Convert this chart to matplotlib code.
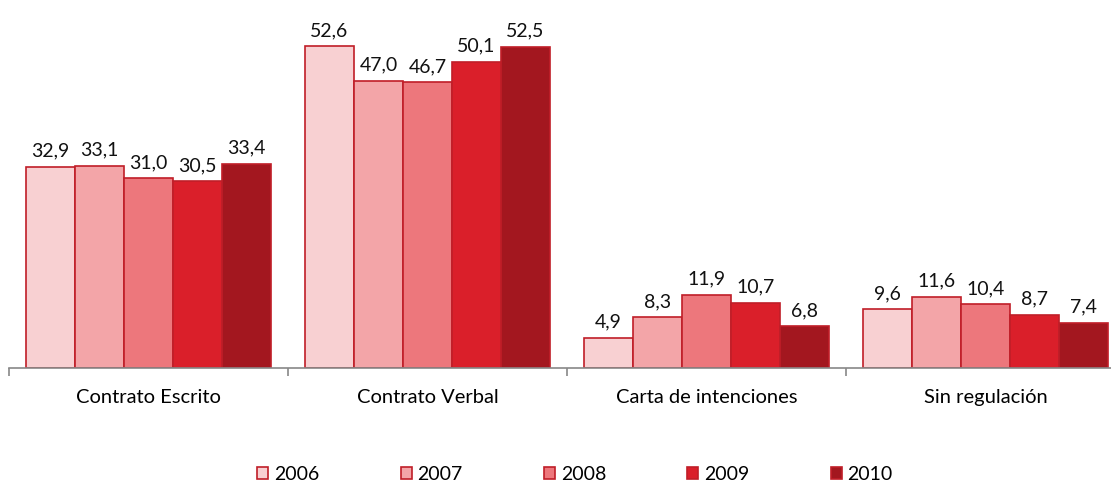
import matplotlib
matplotlib.use("Agg")
import matplotlib.pyplot as plt
from matplotlib.patches import Patch
import numpy as np

categories = ["Contrato Escrito", "Contrato Verbal", "Carta de intenciones", "Sin regulación"]
years = ["2006", "2007", "2008", "2009", "2010"]
values = {
    "2006": [32.9, 52.6, 4.9, 9.6],
    "2007": [33.1, 47.0, 8.3, 11.6],
    "2008": [31.0, 46.7, 11.9, 10.4],
    "2009": [30.5, 50.1, 10.7, 8.7],
    "2010": [33.4, 52.5, 6.8, 7.4],
}
colors = ["#F8D0D2", "#F3A5A8", "#ED777C", "#DA1F2A", "#A3171F"]
edge = "#C01E28"

plt.rcParams["font.family"] = ["Lato", "DejaVu Sans"]

fig = plt.figure(figsize=(11.11, 4.84), dpi=100)
ax = fig.add_axes([9 / 1111, 1 - 368 / 484, 1 - 9 / 1111, 367 / 484])

x = np.arange(len(categories))
bw = 0.1756
for i, y in enumerate(years):
    pos = x + (i - 2) * bw
    ax.bar(pos, values[y], width=bw, color=colors[i], edgecolor=edge, linewidth=1.2)
    for px, v in zip(pos, values[y]):
        ax.text(px, v + 1.2, f"{v:.1f}".replace(".", ","), ha="center", va="bottom",
                fontsize=14, color="#111111")

for s in ["top", "right", "left"]:
    ax.spines[s].set_visible(False)
ax.spines["bottom"].set_color("#888888")
ax.spines["bottom"].set_linewidth(1.2)
ax.set_yticks([])
ax.set_xticks(np.arange(len(categories) + 1) - 0.5, minor=True)
ax.set_xticks(x)
ax.set_xticklabels(categories, fontsize=14.5)
ax.tick_params(axis="x", which="major", length=0, pad=15)
ax.tick_params(axis="x", which="minor", length=6, color="#888888", width=1.2)
# limits set after ticks so the tick call does not widen the view
ax.set_xlim(-0.5, -0.5 + 3.95)
ax.set_ylim(0, 60)

handles = [Patch(facecolor=c, edgecolor=edge, linewidth=1.2) for c in colors]
fig.legend(handles, years, loc="center", bbox_to_anchor=(0.5176, 0.02), ncol=5,
           frameon=False, fontsize=14, handlelength=0.57, handleheight=0.6,
           handletextpad=0.3, columnspacing=4.17)

fig.savefig("out.png", dpi=100)
